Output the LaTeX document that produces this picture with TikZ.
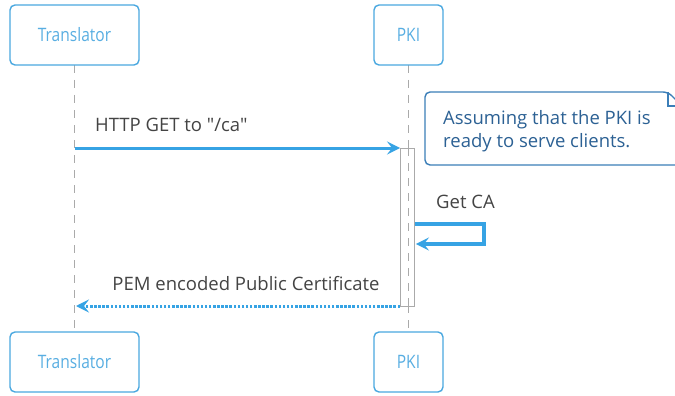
\documentclass[tikz,border=0pt]{standalone}
\usepackage{fontspec}
\setmainfont{Open Sans}[Ligatures=TeXOff]
\usetikzlibrary{arrows.meta}
\definecolor{actorblue}{HTML}{4AA8E0}
\definecolor{actortext}{HTML}{58AEE2}
\definecolor{arrowblue}{HTML}{36A3E4}
\definecolor{notebord}{HTML}{3B7EB8}
\definecolor{notetext}{HTML}{2C6194}
\definecolor{labelgray}{HTML}{444444}
\definecolor{lifegray}{HTML}{AAAAAA}
\newcommand{\actortxt}[1]{\scalebox{0.84}[1]{#1}}
\tikzset{
  actor/.style={draw=actorblue, line width=1.4pt, rounded corners=5pt, fill=white,
    text=actortext, font=\fontsize{18.5}{20}\selectfont, minimum height=60pt, inner sep=0pt},
  lifeline/.style={draw=lifegray, line width=0.8pt, dash pattern=on 8pt off 7pt},
  msg/.style={draw=arrowblue, line width=3pt, -{Stealth[length=13pt,width=13pt,inset=5pt]}},
  retmsg/.style={draw=arrowblue, line width=3pt, dash pattern=on 2.5pt off 1.6pt,
    -{Stealth[length=13pt,width=13pt,inset=5pt]}},
  lbl/.style={text=labelgray, font=\fontsize{18.5}{20}\selectfont, inner sep=0pt},
  notestyle/.style={text=notetext, font=\fontsize{18.5}{20}\selectfont, inner sep=0pt},
  actbar/.style={draw=lifegray, line width=0.9pt, fill=white}
}
\begin{document}
\begin{tikzpicture}[x=1pt,y=-1pt]
\clip (0,0) rectangle (675,396);
\fill[white] (0,0) rectangle (675,396);
% lifelines
\coordinate (tTop) at (74.5,65);
\coordinate (tBot) at (74.5,332);
\coordinate (pTop) at (408.5,65);
\coordinate (pBot) at (408.5,332);
\draw[lifeline] (tTop) -- (tBot);
\draw[lifeline] (pTop) -- (pBot);
% actors
\node[actor, minimum width=129pt] (t1) at (74.5,35) {\actortxt{Translator}};
\node[actor, minimum width=69pt] (p1) at (408.5,35) {\actortxt{PKI}};
\node[actor, minimum width=129pt] (t2) at (74.5,362) {\actortxt{Translator}};
\node[actor, minimum width=69pt] (p2) at (408.5,362) {\actortxt{PKI}};
% activation bar
\node[actbar, minimum width=14pt, minimum height=158pt, inner sep=0pt, anchor=north] (bar) at (407.5,148) {};
\draw[lifeline] (408.5,148) -- (408.5,306);
% note
\draw[notebord, line width=1.4pt, fill=white, rounded corners=5pt]
  (425,92) -- (668,92) [sharp corners] -- (682,106) -- (682,165) [rounded corners=5pt] -- (425,165) -- cycle;
\draw[notebord, line width=1.4pt] (668,92) -- (668,106) -- (682,106);
\node[notestyle, anchor=base west] (note1) at (443,124.5) {Assuming that the PKI is};
\node[notestyle, anchor=base west] (note2) at (443,147.5) {ready to serve clients.};
% messages
\coordinate (m1s) at (74.5,148);
\coordinate (m1e) at (bar.west |- 0,148);
\draw[msg] (m1s) -- (m1e);
\node[lbl, anchor=base west] (l1) at (95,131) {HTTP GET to "/ca"};
\coordinate (s1) at (bar.east |- 0,224);
\coordinate (s2) at (bar.east |- 0,244);
\draw[msg, line width=3.2pt] (s1) -- (484,224) -- (484,244) -- ([xshift=1pt]s2);
\node[lbl, anchor=base west] (l2) at (436,208.5) {Get CA};
\coordinate (r1) at (bar.west |- 0,306);
\coordinate (r2) at (76,306);
\draw[retmsg] (r1) -- (r2);
\node[lbl, anchor=base] (l3) at (246,290.5) {PEM encoded Public Certificate};
\end{tikzpicture}
\end{document}
